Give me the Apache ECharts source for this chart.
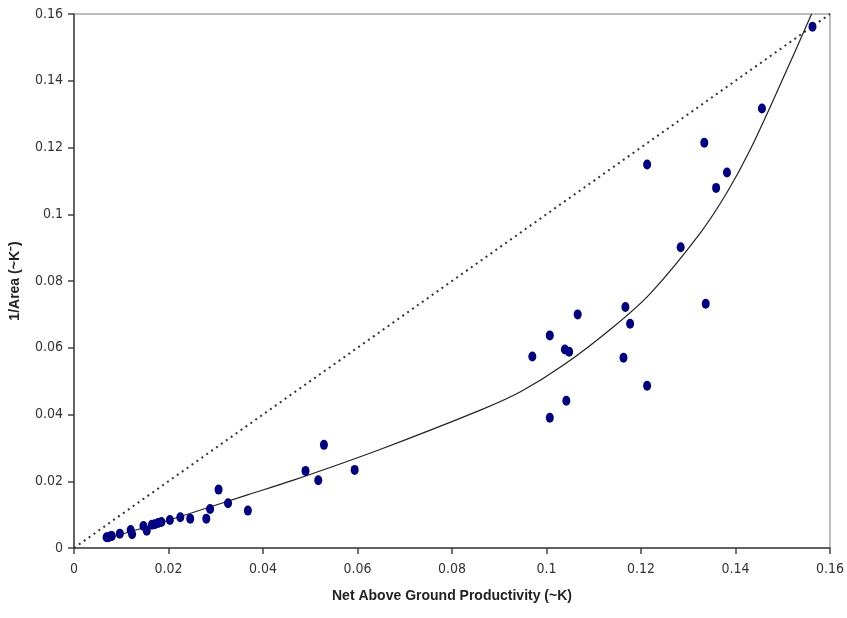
<!DOCTYPE html>
<html>
<head>
<meta charset="utf-8">
<script src="https://cdn.jsdelivr.net/npm/echarts@6/dist/echarts.min.js"></script>
<style>
  html, body { margin: 0; padding: 0; background: #fff; }
  #chart { width: 847px; height: 618px; }
</style>
</head>
<body>
<div id="chart"></div>
<script>
// observed points: [productivity, 1/area]
var obsPoints = [
  [0.0069, 0.0032], [0.0073, 0.0032], [0.0078, 0.0036], [0.0080, 0.0036],
  [0.0097, 0.0043], [0.0120, 0.0054], [0.0123, 0.0041], [0.0147, 0.0066],
  [0.0154, 0.0052], [0.0165, 0.0070], [0.0171, 0.0071], [0.0178, 0.0075],
  [0.0185, 0.0078], [0.0203, 0.0084], [0.0225, 0.0092], [0.0246, 0.0088],
  [0.0280, 0.0088], [0.0288, 0.0117], [0.0306, 0.0175], [0.0326, 0.0134],
  [0.0368, 0.0112], [0.0490, 0.0231], [0.0517, 0.0203], [0.0529, 0.0309],
  [0.0594, 0.0234], [0.0970, 0.0574], [0.1007, 0.0637], [0.1007, 0.0390],
  [0.1039, 0.0595], [0.1042, 0.0441], [0.1048, 0.0588], [0.1066, 0.0700],
  [0.1163, 0.0570], [0.1167, 0.0722], [0.1177, 0.0672], [0.1213, 0.0486],
  [0.1213, 0.1149], [0.1284, 0.0901], [0.1334, 0.1214], [0.1337, 0.0732],
  [0.1359, 0.1079], [0.1382, 0.1125], [0.1456, 0.1317], [0.1563, 0.1562]
];

// trend curve
var trendPoints = [
  [0.0071, 0.0029], [0.0202, 0.0084], [0.0367, 0.0159], [0.0466, 0.0204],
  [0.0649, 0.0296], [0.0860, 0.0413], [0.0945, 0.0468], [0.1036, 0.0548],
  [0.1142, 0.0663], [0.1220, 0.0763], [0.1325, 0.0943], [0.1382, 0.1065],
  [0.1431, 0.1193], [0.1500, 0.1405], [0.1561, 0.1600]
];

// 1:1 reference line
var refLine = [[0, 0], [0.16, 0.16]];

var axisTicks = [0, 0.02, 0.04, 0.06, 0.08, 0.1, 0.12, 0.14, 0.16];

var labelFont = "'DejaVu Sans Condensed', 'Liberation Sans Narrow', 'Arial Narrow', sans-serif";
var titleFont = "'Liberation Sans', Arial, sans-serif";

var chart = echarts.init(document.getElementById('chart'));

function fmt(v) {
  return String(+v.toFixed(2));
}

var axisCommon = {
  type: 'value',
  min: axisTicks[0],
  max: axisTicks[axisTicks.length - 1],
  interval: 0.02,
  splitLine: { show: false },
  axisLine: { show: true, onZero: false, lineStyle: { color: '#444', width: 1.5 } },
  axisTick: { show: true, length: 6, lineStyle: { color: '#444', width: 1.5 } },
  axisLabel: { color: '#333', fontFamily: labelFont, fontSize: 14, formatter: fmt },
  nameLocation: 'middle',
  nameTextStyle: { color: '#222', fontFamily: titleFont, fontWeight: 'bold', fontSize: 14 }
};

var option = {
  animation: false,
  backgroundColor: '#fff',
  grid: {
    left: 73, right: 17, top: 14, bottom: 70,
    show: true, borderColor: '#a8a8a8', borderWidth: 1.5, backgroundColor: '#fff'
  },
  xAxis: Object.assign({}, axisCommon, {
    name: 'Net Above Ground Productivity (~K)',
    nameGap: 41,
    axisLabel: Object.assign({}, axisCommon.axisLabel, { margin: 14 })
  }),
  yAxis: Object.assign({}, axisCommon, {
    name: '1/Area (~K\u207B)',
    nameGap: 52,
    axisLabel: Object.assign({}, axisCommon.axisLabel, { margin: 11 })
  }),
  series: [
    {
      type: 'line',
      data: refLine,
      symbol: 'none',
      silent: true,
      lineStyle: { color: '#333', width: 2, type: [2, 4] },
      z: 2
    },
    {
      type: 'line',
      data: trendPoints,
      smooth: 0.3,
      symbol: 'none',
      silent: true,
      lineStyle: { color: '#222', width: 1.2 },
      z: 3
    },
    {
      type: 'scatter',
      data: obsPoints,
      symbol: 'circle',
      symbolSize: [8, 10],
      itemStyle: { color: '#000080', opacity: 1 },
      z: 4
    }
  ]
};

chart.setOption(option);
</script>
</body>
</html>
